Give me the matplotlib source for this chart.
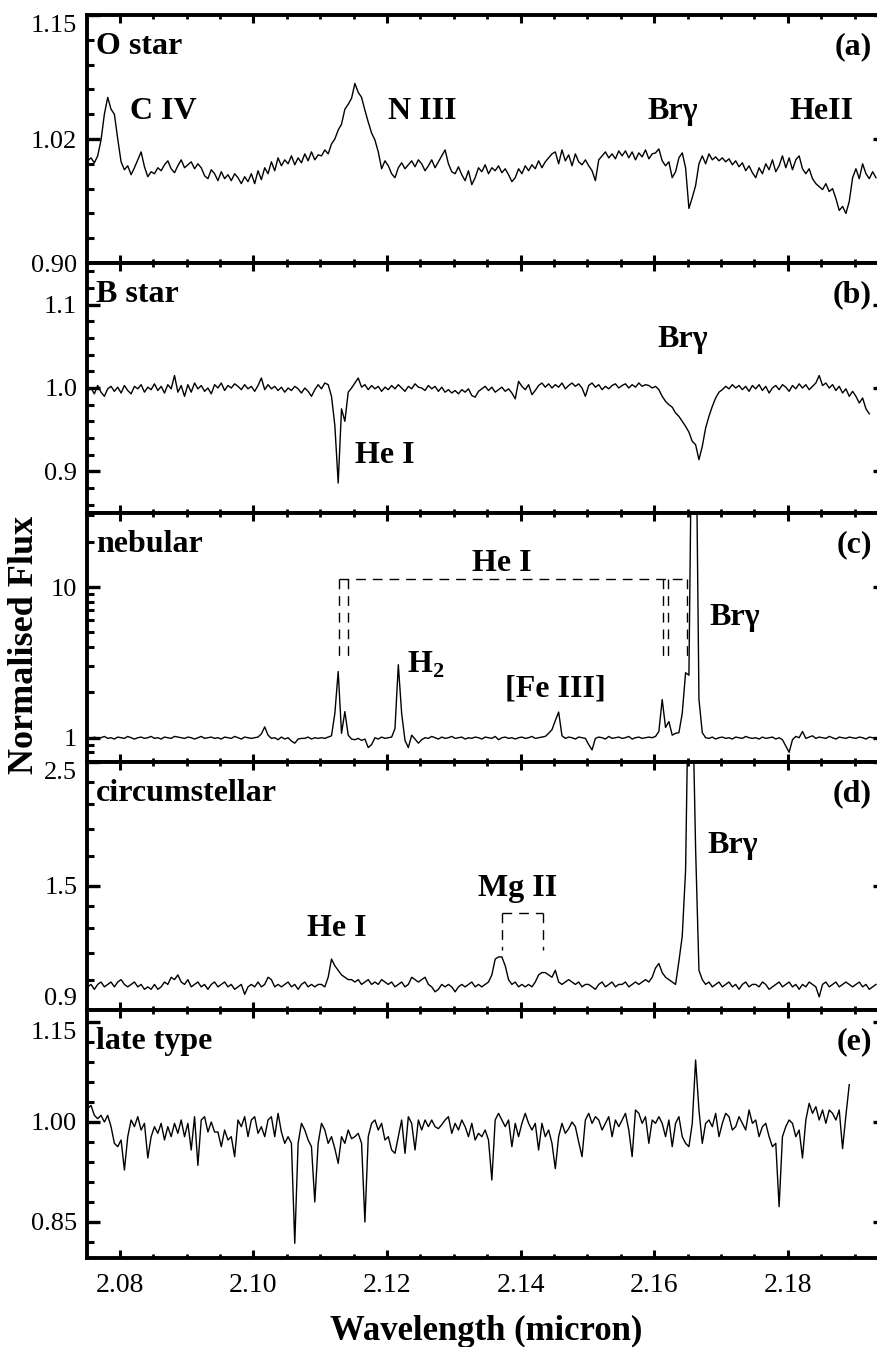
import numpy as np
import matplotlib.pyplot as plt
from matplotlib.ticker import FixedLocator, MultipleLocator, NullFormatter

plt.rcParams['font.family'] = 'Liberation Serif'
plt.rcParams['mathtext.fontset'] = 'custom'
plt.rcParams['mathtext.rm'] = 'Liberation Serif'
plt.rcParams['mathtext.bf'] = 'Liberation Serif:bold'

# all spectra share one wavelength grid (micron)
wl_start = 2.0752
wl_step = 0.0005

o_star = [
    1.003, 1.006, 1.001, 1.008, 1.024, 1.050, 1.067, 1.055, 1.050, 1.025,
    1.002, 0.994, 0.998, 0.989, 0.996, 1.004, 1.012, 0.997, 0.987, 0.992,
    0.990, 0.996, 0.993, 0.999, 1.003, 0.995, 0.991, 0.998, 1.004, 0.996,
    0.999, 1.002, 0.995, 1.000, 0.996, 0.988, 0.985, 0.994, 0.990, 0.983,
    0.992, 0.985, 0.989, 0.983, 0.990, 0.986, 0.980, 0.987, 0.982, 0.990,
    0.980, 0.993, 0.984, 0.996, 0.990, 1.002, 0.993, 1.006, 0.998, 1.004,
    1.000, 1.008, 0.999, 1.006, 1.001, 1.010, 1.003, 1.012, 1.004, 1.009,
    1.008, 1.014, 1.010, 1.020, 1.025, 1.034, 1.040, 1.055, 1.060, 1.066,
    1.081, 1.072, 1.067, 1.054, 1.042, 1.031, 1.024, 1.012, 0.995, 1.003,
    0.998, 0.990, 0.986, 0.996, 1.001, 0.995, 0.999, 1.003, 0.997, 1.004,
    1.000, 0.993, 0.998, 1.004, 0.996, 1.002, 1.008, 1.014, 1.000, 0.992,
    0.990, 0.997, 0.989, 0.983, 0.993, 0.979, 0.986, 0.996, 0.992, 0.999,
    0.990, 0.996, 0.993, 0.998, 0.991, 0.995, 0.989, 0.982, 0.986, 0.995,
    0.990, 0.998, 0.993, 0.999, 0.995, 1.003, 0.996, 1.002, 1.006, 1.010,
    1.012, 1.000, 1.014, 1.003, 1.009, 0.998, 1.010, 1.002, 0.999, 1.004,
    0.998, 0.993, 0.983, 1.004, 1.008, 1.012, 1.006, 1.010, 1.005, 1.013,
    1.008, 1.013, 1.006, 1.012, 1.004, 1.011, 1.007, 1.014, 1.005, 1.010,
    1.011, 1.015, 1.003, 0.998, 1.002, 0.986, 0.992, 1.006, 1.011, 0.996,
    0.955, 0.966, 0.978, 1.000, 1.008, 1.000, 1.010, 1.004, 1.007, 1.003,
    1.006, 1.002, 1.005, 0.999, 1.003, 0.997, 1.001, 0.993, 0.998, 0.991,
    0.986, 0.996, 0.990, 1.000, 0.994, 1.004, 0.992, 0.998, 1.008, 0.996,
    1.006, 0.994, 1.004, 1.008, 0.995, 0.990, 0.995, 0.985, 0.980, 0.977,
    0.974, 0.980, 0.972, 0.975, 0.965, 0.953, 0.957, 0.950, 0.962, 0.986,
    0.995, 0.985, 1.000, 0.990, 0.985, 0.992, 0.986,
]

b_star = [
    0.996, 1.000, 0.993, 1.003, 0.995, 0.990, 0.999, 1.002, 0.996, 1.001,
    0.994, 1.003, 0.997, 0.993, 1.002, 0.999, 1.004, 0.995, 1.001, 0.998,
    1.005, 0.997, 1.002, 0.994, 1.004, 0.999, 1.015, 0.995, 1.003, 0.990,
    1.004, 0.995, 1.006, 0.999, 1.003, 0.996, 1.000, 0.993, 1.004, 1.000,
    1.006, 0.997, 1.003, 1.000, 1.005, 1.002, 0.998, 1.004, 0.999, 1.002,
    0.996, 1.003, 1.012, 0.998, 1.004, 0.999, 1.002, 0.997, 1.001, 0.995,
    1.000, 0.997, 1.002, 0.999, 0.994, 1.000, 0.996, 0.990, 0.998, 1.004,
    0.999, 1.006, 1.004, 0.990, 0.955, 0.886, 0.975, 0.960, 0.995, 1.000,
    1.006, 1.012, 1.001, 1.004, 0.998, 1.003, 0.999, 1.002, 0.996, 1.001,
    0.998, 1.003, 0.999, 1.004, 1.000, 0.996, 1.002, 0.999, 1.005, 1.001,
    1.000, 0.997, 1.003, 0.999, 1.002, 0.996, 1.001, 0.995, 0.998, 0.994,
    0.997, 0.993, 0.998, 0.995, 0.999, 0.991, 0.989, 0.996, 0.999, 1.002,
    0.997, 1.001, 0.995, 0.998, 1.001, 0.996, 0.999, 0.994, 0.987, 1.008,
    1.002, 0.998, 1.004, 0.992, 0.997, 1.003, 1.006, 1.001, 1.005, 1.000,
    1.004, 1.001, 1.006, 0.999, 1.003, 1.006, 1.002, 1.005, 1.000, 0.990,
    1.003, 1.006, 1.001, 1.004, 0.998, 1.002, 0.999, 1.003, 1.005, 1.000,
    1.003, 1.005, 1.000, 1.004, 1.001, 1.006, 1.002, 1.004, 1.003, 1.000,
    1.002, 0.998, 0.990, 0.984, 0.980, 0.977, 0.970, 0.966, 0.960, 0.954,
    0.947, 0.936, 0.932, 0.914, 0.930, 0.952, 0.966, 0.978, 0.988, 0.995,
    0.998, 1.002, 0.999, 1.004, 1.000, 1.003, 0.998, 1.002, 0.996, 1.003,
    0.999, 1.004, 0.997, 1.002, 0.994, 1.000, 1.003, 0.998, 1.004, 1.001,
    0.996, 1.003, 0.999, 1.005, 1.000, 1.004, 0.998, 1.002, 1.006, 1.015,
    1.003, 1.006, 1.000, 1.004, 0.997, 1.002, 0.994, 0.999, 0.990, 0.996,
    0.990, 0.982, 0.988, 0.975, 0.969,
]

nebular = [
    1.00, 0.98, 1.01, 0.99, 1.00, 1.02, 0.99, 1.00, 0.98, 1.01,
    1.00, 0.99, 1.02, 1.00, 0.98, 1.00, 1.01, 0.99, 1.00, 1.02,
    0.99, 1.00, 0.98, 1.01, 1.00, 0.99, 1.02, 1.01, 1.00, 0.99,
    1.01, 1.00, 0.98, 1.00, 1.02, 0.99, 1.00, 1.01, 0.99, 1.00,
    0.98, 1.01, 1.00, 0.99, 1.02, 1.00, 0.98, 1.01, 1.00, 0.99,
    1.00, 1.01, 1.06, 1.18, 1.04, 0.99, 1.00, 0.97, 1.01, 0.98,
    1.00, 0.95, 0.92, 0.98, 0.99, 0.99, 1.01, 0.98, 1.00, 0.99,
    1.00, 0.99, 1.01, 1.03, 1.45, 2.75, 1.07, 1.49, 1.04, 0.98,
    0.97, 0.99, 0.96, 0.98, 0.86, 0.90, 1.00, 0.98, 1.01, 0.99,
    1.00, 1.01, 1.15, 3.05, 1.45, 0.96, 0.86, 1.04, 0.98, 0.92,
    0.97, 1.00, 0.99, 1.02, 1.00, 0.98, 1.01, 0.99, 1.00, 1.02,
    0.99, 1.00, 1.01, 0.98, 1.00, 0.99, 1.01, 1.00, 0.98, 1.01,
    1.00, 0.99, 1.02, 0.97, 1.00, 1.01, 0.99, 1.00, 0.98, 1.00,
    1.01, 0.99, 1.00, 1.02, 0.99, 1.00, 1.01, 1.02, 1.07, 1.13,
    1.30, 1.48, 1.03, 0.99, 1.01, 1.00, 0.98, 1.01, 1.00, 0.99,
    0.90, 0.83, 0.99, 1.01, 1.00, 0.98, 1.02, 0.99, 1.00, 1.01,
    0.99, 1.00, 1.02, 0.98, 1.00, 1.01, 0.99, 1.00, 1.01, 1.00,
    1.02, 1.10, 1.79, 1.17, 1.28, 1.04, 1.07, 1.08, 1.45, 2.70,
    2.60, 300.0, 250.0, 1.80, 1.08, 1.00, 0.99, 1.01, 0.98, 1.00,
    1.01, 0.99, 1.00, 0.98, 1.01, 1.00, 0.99, 1.02, 1.00, 0.99,
    1.00, 0.98, 1.01, 0.99, 1.00, 1.01, 0.98, 1.00, 0.97, 0.88,
    0.80, 0.97, 1.02, 1.00, 1.10, 0.99, 1.01, 1.03, 0.99, 1.01,
    1.00, 0.99, 1.02, 1.00, 0.98, 1.01, 1.00, 0.99, 1.01, 1.00,
    0.99, 1.01, 1.00, 0.98, 1.01, 1.00, 0.99,
]

circumstellar = [
    0.99, 1.00, 0.98, 1.00, 1.01, 0.99, 1.00, 1.01, 0.99, 1.01,
    1.02, 1.00, 0.99, 1.00, 1.01, 0.99, 1.00, 0.98, 0.99, 0.98,
    1.00, 0.98, 0.99, 1.01, 1.00, 1.03, 1.02, 1.04, 1.01, 1.00,
    1.02, 0.99, 1.00, 1.01, 0.99, 1.00, 0.98, 1.00, 1.01, 0.99,
    1.00, 1.01, 0.99, 1.00, 0.98, 0.99, 1.00, 0.96, 0.99, 1.00,
    0.99, 1.01, 0.99, 1.00, 1.03, 1.02, 0.99, 1.00, 0.99, 1.00,
    1.01, 0.99, 1.00, 0.98, 1.00, 1.01, 0.99, 1.00, 0.99, 1.00,
    1.00, 0.99, 1.03, 1.11, 1.08, 1.06, 1.04, 1.03, 1.02, 1.02,
    1.01, 1.02, 1.00, 1.01, 1.02, 1.00, 1.01, 1.00, 1.02, 1.01,
    1.00, 1.01, 0.99, 1.00, 1.01, 0.99, 1.00, 1.03, 1.02, 1.01,
    1.02, 1.03, 1.00, 0.99, 0.97, 0.98, 1.00, 0.99, 1.00, 0.99,
    0.97, 0.99, 1.00, 0.99, 1.00, 1.01, 0.99, 1.00, 0.99, 1.00,
    1.01, 1.04, 1.11, 1.12, 1.12, 1.08, 1.02, 1.00, 1.01, 0.99,
    1.00, 0.99, 1.00, 0.99, 1.01, 1.04, 1.05, 1.05, 1.04, 1.03,
    1.06, 1.01, 1.00, 1.01, 1.02, 1.01, 1.00, 1.01, 0.99, 1.00,
    1.00, 0.99, 0.98, 1.00, 1.01, 0.99, 1.00, 1.01, 0.99, 1.00,
    1.00, 1.01, 0.99, 1.00, 1.01, 1.00, 1.01, 1.02, 1.01, 1.03,
    1.07, 1.09, 1.05, 1.03, 1.02, 1.01, 1.00, 1.10, 1.22, 1.60,
    4.00, 3.50, 1.75, 1.06, 1.02, 1.00, 1.01, 0.99, 1.00, 1.01,
    0.99, 1.00, 1.01, 0.99, 1.00, 0.98, 1.00, 1.01, 0.99, 1.00,
    1.00, 0.99, 1.01, 1.00, 0.98, 0.99, 1.00, 1.01, 0.99, 1.00,
    1.01, 0.99, 1.00, 0.98, 1.00, 0.99, 1.01, 1.00, 0.99, 0.95,
    1.00, 1.01, 0.99, 1.00, 1.01, 0.99, 1.00, 1.01, 1.00, 0.99,
    1.00, 1.01, 0.99, 1.00, 0.98, 0.99, 1.00,
]

late_type = [
    1.020, 1.025, 1.010, 1.005, 1.010, 1.000, 1.010, 0.993, 0.968, 0.963,
    0.973, 0.928, 0.978, 1.003, 0.993, 1.008, 0.988, 0.998, 0.946, 0.978,
    0.993, 0.983, 0.998, 0.973, 0.993, 0.978, 0.998, 0.983, 1.003, 0.978,
    0.998, 0.958, 1.008, 0.935, 1.003, 1.008, 0.985, 1.000, 0.985, 0.985,
    0.963, 0.988, 0.973, 0.978, 0.948, 1.003, 0.993, 1.008, 0.978, 1.003,
    1.008, 0.983, 0.993, 0.978, 1.003, 1.008, 0.978, 1.013, 0.985, 0.968,
    0.978, 0.968, 0.818, 0.968, 0.998, 0.988, 0.973, 0.963, 0.880, 0.968,
    0.998, 0.988, 0.968, 0.978, 0.960, 0.938, 0.978, 0.968, 0.988, 0.975,
    0.978, 0.983, 0.968, 0.850, 0.978, 0.998, 1.003, 0.988, 0.998, 0.973,
    0.978, 0.958, 0.953, 0.978, 1.003, 0.953, 1.008, 0.998, 0.958, 1.003,
    0.988, 1.003, 0.993, 1.003, 0.993, 0.990, 0.996, 1.003, 1.008, 0.983,
    0.998, 0.988, 1.003, 0.993, 0.978, 0.998, 0.973, 0.983, 0.978, 0.988,
    0.973, 0.913, 1.003, 1.013, 1.003, 0.993, 1.003, 0.963, 0.998, 0.978,
    0.998, 1.013, 0.998, 0.988, 0.998, 0.958, 0.998, 0.978, 0.988, 0.968,
    0.930, 0.978, 0.998, 0.983, 0.990, 1.000, 0.993, 0.970, 0.948, 1.003,
    1.013, 0.998, 1.008, 1.003, 0.988, 0.998, 1.008, 0.978, 1.003, 0.993,
    1.003, 1.013, 0.988, 0.948, 1.018, 1.013, 0.998, 1.008, 0.968, 1.003,
    0.998, 1.008, 0.998, 0.978, 1.003, 0.963, 0.998, 1.008, 0.978, 0.968,
    0.963, 0.998, 1.093, 1.018, 0.968, 0.998, 1.003, 0.993, 1.013, 0.978,
    0.998, 1.013, 1.008, 0.988, 0.993, 1.008, 0.998, 0.988, 1.018, 0.998,
    1.003, 0.978, 0.993, 0.998, 0.978, 0.963, 0.968, 0.873, 0.978, 0.993,
    1.003, 0.998, 0.978, 0.988, 0.946, 1.003, 1.028, 1.013, 1.023, 1.003,
    1.018, 0.998, 1.018, 1.013, 1.003, 1.018, 0.960, 1.010, 1.056,
]

# line identifications (micron) used for the dashed brackets
hei_lines = [2.1128, 2.1141, 2.1613, 2.1620, 2.1649]
mgii_lines = [2.1372, 2.1433]

panel_names = ['O star', 'B star', 'nebular', 'circumstellar', 'late type']
panel_tags = ['(a)', '(b)', '(c)', '(d)', '(e)']
spectra = [o_star, b_star, nebular, circumstellar, late_type]

ylims = [(0.90, 1.15), (0.85, 1.15), (0.69, 31.0), (0.9, 2.5), (0.796, 1.168)]
yscales = ['linear', 'linear', 'log', 'log', 'linear']
ymajor = [[0.90, 1.025, 1.15], [0.9, 1.0, 1.1], [1, 10], [0.9, 1.5, 2.5],
          [0.85, 1.00, 1.15]]
ylabels = [['0.90', '1.02', '1.15'], ['0.9', '1.0', '1.1'], ['1', '10'],
           ['0.9', '1.5', '2.5'], ['0.85', '1.00', '1.15']]
yminor = [
    list(np.arange(0.925, 1.15, 0.025)),
    list(np.arange(0.86, 1.15, 0.02)),
    [0.7, 0.8, 0.9, 2, 3, 4, 5, 6, 7, 8, 9, 20, 30],
    [1.02, 1.14, 1.26, 1.38, 1.7, 1.9, 2.1, 2.3],
    list(np.arange(0.82, 1.15, 0.03)),
]

W, H = 878, 1347
fig = plt.figure(figsize=(W / 100, H / 100), dpi=100)
x_left, x_right = 87, 886
edges = [15, 263, 513, 762, 1010, 1258]

bold = dict(fontsize=23, fontweight='bold', color='black')
axes = []
for k in range(5):
    top, bot = edges[k], edges[k + 1]
    ax = fig.add_axes([x_left / W, 1 - bot / H, (x_right - x_left) / W, (bot - top) / H])
    vals = np.array(spectra[k])
    wl = wl_start + wl_step * np.arange(len(vals))
    ax.plot(wl, vals, color='black', lw=1.0)

    ax.set_yscale(yscales[k])
    ax.set_xlim(2.0751, 2.1947)
    ax.set_ylim(*ylims[k])
    ax.xaxis.set_major_locator(MultipleLocator(0.02))
    ax.xaxis.set_minor_locator(MultipleLocator(0.005))
    ax.yaxis.set_major_locator(FixedLocator(ymajor[k]))
    ax.set_yticklabels(ylabels[k])
    ax.yaxis.set_minor_locator(FixedLocator(yminor[k]))
    ax.yaxis.set_minor_formatter(NullFormatter())

    ax.tick_params(which='both', direction='in', top=True, right=True, colors='black')
    ax.tick_params(axis='x', which='major', length=6, width=2.2, pad=11, labelsize=20)
    ax.tick_params(axis='x', which='minor', length=3, width=2.0)
    ax.tick_params(axis='y', which='major', length=9.5, width=2.4, pad=7, labelsize=19)
    ax.tick_params(axis='y', which='minor', length=5, width=2.2)
    if k < 4:
        ax.tick_params(labelbottom=False)
    for s in ax.spines.values():
        s.set_linewidth(2.8)

    ax.text(0.011, 0.842, panel_names[k], transform=ax.transAxes,
            ha='left', va='baseline', **bold)
    ax.text(0.9825, 0.842, panel_tags[k], transform=ax.transAxes,
            ha='right', va='baseline', **bold)
    axes.append(ax)

# keep the outermost y labels inside their panel
axes[0].yaxis.get_major_ticks()[2].label1.set_va('top')
axes[3].yaxis.get_major_ticks()[2].label1.set_va('top')
axes[3].yaxis.get_major_ticks()[0].label1.set_va('bottom')
axes[4].yaxis.get_major_ticks()[2].label1.set_va('top')

# line labels
ax_a, ax_b, ax_c, ax_d, ax_e = axes
for x, s in [(2.0815, 'C IV'), (2.1201, 'N III'), (2.1590, 'Br\u03b3'), (2.1803, 'HeII')]:
    ax_a.text(x, 1.045, s, ha='left', va='baseline', **bold)

ax_b.text(2.1152, 0.910, 'He I', ha='left', va='baseline', **bold)
ax_b.text(2.1605, 1.049, 'Br\u03b3', ha='left', va='baseline', **bold)

ax_c.text(2.1328, 12.8, 'He I', ha='left', va='baseline', **bold)
ax_c.text(2.1230, 2.71, r'H$_\mathbf{2}$', ha='left', va='baseline', **bold)
ax_c.text(2.1376, 1.877, '[Fe III]', ha='left', va='baseline', **bold)
ax_c.text(2.1683, 5.58, 'Br\u03b3', ha='left', va='baseline', **bold)

ax_d.text(2.1080, 1.221, 'He I', ha='left', va='baseline', **bold)
ax_d.text(2.1336, 1.439, 'Mg II', ha='left', va='baseline', **bold)
ax_d.text(2.1679, 1.718, 'Br\u03b3', ha='left', va='baseline', **bold)

# dashed brackets grouping the He I and Mg II lines
dash = dict(color='black', lw=1.0, ls=(0, (7, 5)))
ax_c.plot([hei_lines[0], hei_lines[-1]], [11.3, 11.3], **dash)
for x in hei_lines:
    ax_c.plot([x, x], [11.3, 3.47], **dash)

ax_d.plot(mgii_lines, [1.342, 1.342], **dash)
for x in mgii_lines:
    ax_d.plot([x, x], [1.342, 1.152], **dash)

fig.text(486 / W, 1 - 1340 / H, 'Wavelength (micron)', ha='center', va='baseline',
         fontsize=25, fontweight='bold')
fig.text(25 / W, 1 - 645 / H, 'Normalised Flux', ha='center', va='center',
         rotation=90, fontsize=26, fontweight='bold')

fig.savefig('out.png', dpi=100)
